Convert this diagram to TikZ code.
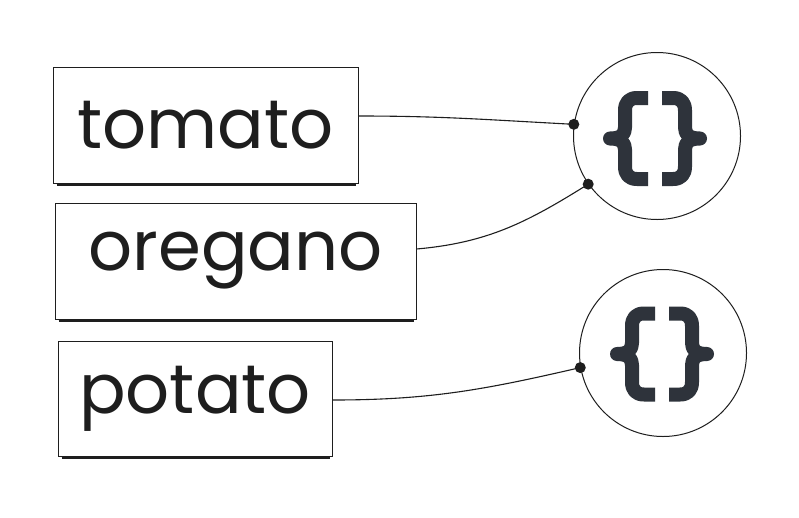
\documentclass[tikz,border=0pt]{standalone}
\usepackage{fontspec}
\setmainfont{Poppins}
\definecolor{ink}{HTML}{1E1E1E}
\definecolor{bracecol}{HTML}{2E333B}
\begin{document}
\begin{tikzpicture}[x=1pt,y=-1pt,
  word/.style={draw=ink, line width=0.9pt, rectangle, inner sep=0pt, text=ink,
    font=\fontsize{69}{69}\selectfont},
  blob/.style={draw=ink, line width=1pt, circle, inner sep=0pt, minimum size=167pt},
  link/.style={draw=ink, line width=1.1pt},
  knob/.style={fill=ink, circle, inner sep=0pt, minimum size=11pt},
  bracestroke/.style={draw=bracecol, line width=14pt, line cap=butt, line join=round},
  bracepair/.pic={
    \draw[bracestroke] (-7,-40.5) -- (-18,-40.5) .. controls (-26,-40.5) and (-30,-36) .. (-30,-28)
      -- (-30,-11) .. controls (-30,-4) and (-34,0) .. (-45,0)
      .. controls (-34,0) and (-30,4) .. (-30,11) -- (-30,28)
      .. controls (-30,36) and (-26,40.5) .. (-18,40.5) -- (-7,40.5);
    \draw[bracestroke] (7,-40.5) -- (18,-40.5) .. controls (26,-40.5) and (30,-36) .. (30,-28)
      -- (30,-11) .. controls (30,-4) and (34,0) .. (45,0)
      .. controls (34,0) and (30,4) .. (30,11) -- (30,28)
      .. controls (30,36) and (26,40.5) .. (18,40.5) -- (7,40.5);
  }
]
\useasboundingbox (0,0) rectangle (799,517);
\fill[white] (0,0) rectangle (799,517);

\node[word, minimum width=305pt, minimum height=116pt] (tomato) at (205.5,125) {tomato};
\node[word, minimum width=361pt, minimum height=116pt] (oregano) at (235.5,261) {oregano};
\node[word, minimum width=274pt, minimum height=115pt] (potato) at (195,398.5) {potato};

% heavier bottom edges
\draw[ink, line width=2pt] ([xshift=4pt,yshift=-1.5pt]tomato.south west) -- ([xshift=-2pt,yshift=-1.5pt]tomato.south east);
\draw[ink, line width=2pt] ([xshift=4pt,yshift=-1.5pt]oregano.south west) -- ([xshift=-2pt,yshift=-1.5pt]oregano.south east);
\draw[ink, line width=2pt] ([xshift=4pt,yshift=-1.5pt]potato.south west) -- ([xshift=-2pt,yshift=-1.5pt]potato.south east);

\node[blob] (obj1) at (657,136) {};
\node[blob] (obj2) at (663,353) {};
\pic at ([xshift=-2pt,yshift=-2.5pt]obj1.center) {bracepair};
\pic at ([xshift=-1pt,yshift=-1pt]obj2.center) {bracepair};

\coordinate (e1) at (obj1.172);
\coordinate (e2) at (obj1.215);
\coordinate (e3) at (obj2.190);

\draw[link] (tomato.east |- 0,116) to[out=0, in=177] (e1);
\draw[link] (oregano.east |- 0,249) to[out=5, in=212] (e2);
\draw[link] (potato.east |- 0,400) to[out=0, in=193] (e3);

\node[knob] at (e1) {};
\node[knob] at (e2) {};
\node[knob] at (e3) {};
\end{tikzpicture}
\end{document}
